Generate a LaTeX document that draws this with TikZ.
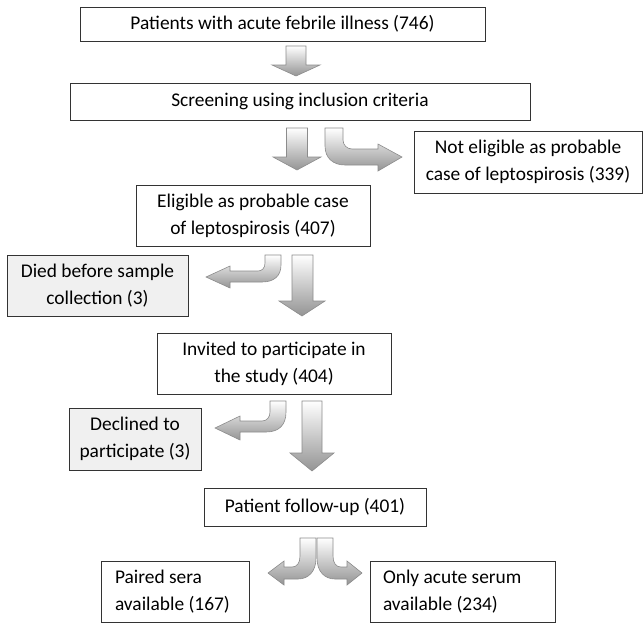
\documentclass[tikz,border=0pt]{standalone}
\usepackage{fontspec}
\setmainfont{Carlito}
\begin{document}
\begin{tikzpicture}[x=1pt,y=-1pt,
  box/.style={draw=black!80, line width=0.9pt, inner sep=0pt, align=center,
    font=\fontsize{19.4}{27}\selectfont},
  greybox/.style={box, fill=black!6},
  blockarr/.style={draw=black!45, line width=0.6pt, top color=white, bottom color=black!42}]
\useasboundingbox (0,0) rectangle (644,624);
\node[box, minimum width=405, minimum height=34] (1) at (282.5,24) {Patients with acute febrile illness (746)};
\node[box, minimum width=460, minimum height=37] (2) at (300,101.5) {Screening using inclusion criteria};
\node[box, minimum width=228, minimum height=62] (3) at (528,162) {Not eligible as probable\\case of leptospirosis (339)};
\node[box, minimum width=234, minimum height=61] (4) at (253,215.5) {Eligible as probable case\\of leptospirosis (407)};
\node[greybox, minimum width=181, minimum height=61] (5) at (97.5,285.5) {Died before sample\\collection (3)};
\node[box, minimum width=234, minimum height=61] (6) at (274,363.5) {Invited to participate in\\the study (404)};
\node[greybox, minimum width=132, minimum height=62] (7) at (135,439) {Declined to\\participate (3)};
\node[box, minimum width=222, minimum height=38] (8) at (315,507) {Patient follow-up (401)};
\node[box, align=flush left, text width=120, minimum width=148, minimum height=61] (9) at (175,591.5) {Paired sera\\available (167)};
\node[box, align=flush left, text width=159, minimum width=185, minimum height=61] (10) at (462.5,591.5) {Only acute serum\\available (234)};

% straight block arrows
\path[blockarr] (286,46) -- (286,65) -- (272,65) -- (296,76) -- (320,65) -- (306,65) -- (306,46) -- cycle;
\path[blockarr] (286.5,128) -- (286.5,157) -- (273,157) -- (297,170) -- (321,157) -- (307.5,157) -- (307.5,128) -- cycle;
\path[blockarr] (292,255) -- (292,301) -- (279,301) -- (302,316) -- (325,301) -- (313,301) -- (313,255) -- cycle;
\path[blockarr] (302,401) -- (302,453) -- (290,453) -- (312,471) -- (334,453) -- (322,453) -- (322,401) -- cycle;

% bent block arrows
\path[blockarr] (325,128) -- (325,146) .. controls (325,158) and (333,165) .. (345,165) -- (378,165) -- (378,171)
  -- (402,157) -- (378,144) -- (378,149) -- (352,149) .. controls (347,149) and (343,145) .. (343,140) -- (343,128) -- cycle;
\path[blockarr] (281,255) -- (281,265) .. controls (281,276) and (274,282) .. (262,282) -- (230,282) -- (230,288)
  -- (206,277) -- (230,266) -- (230,271) -- (258,271) .. controls (262,271) and (265,268) .. (265,263) -- (265,255) -- cycle;
\path[blockarr] (286,401) -- (286,412) .. controls (286,425) and (279,432) .. (266,432) -- (240,432) -- (240,440)
  -- (215,428) -- (240,416) -- (240,421) -- (262,421) .. controls (267,421) and (270,417) .. (270,412) -- (270,401) -- cycle;
\path[blockarr] (316,538) -- (316,558) .. controls (316,572) and (308,579) .. (298,579) -- (284,579) -- (284,585)
  -- (268,573) -- (284,561) -- (284,567) -- (292,567) .. controls (297,567) and (300,563) .. (300,556) -- (300,538) -- cycle;
\path[blockarr] (317,538) -- (317,558) .. controls (317,572) and (325,579) .. (335,579) -- (347,579) -- (347,585)
  -- (362,573) -- (347,561) -- (347,567) -- (341,567) .. controls (336,567) and (333,563) .. (333,556) -- (333,538) -- cycle;
\end{tikzpicture}
\end{document}
